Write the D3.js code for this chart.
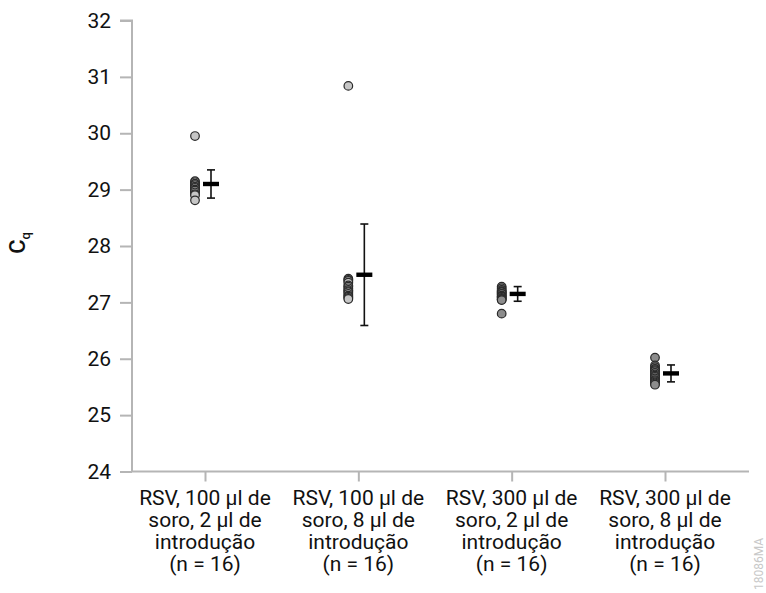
<!DOCTYPE html>
<html>
<head>
<meta charset="utf-8">
<script src="https://cdn.jsdelivr.net/npm/d3@7"></script>
<style>
  body { margin: 0; background: #fff; }
  svg { font-family: Roboto, "Noto Sans", sans-serif; }
</style>
</head>
<body>
<script>
// groups on the x axis
var categories = [
  ["RSV, 100 µl de", "soro, 2 µl de", "introdução", "(n = 16)"],
  ["RSV, 100 µl de", "soro, 8 µl de", "introdução", "(n = 16)"],
  ["RSV, 300 µl de", "soro, 2 µl de", "introdução", "(n = 16)"],
  ["RSV, 300 µl de", "soro, 8 µl de", "introdução", "(n = 16)"]
];

// Cq values per replicate
var g1 = [29.95, 29.15, 29.13, 29.10, 29.10, 29.08, 29.05, 29.05, 29.03, 29.00, 29.00, 28.98, 28.95, 28.92, 28.90, 28.81];
var g2 = [30.84, 27.42, 27.40, 27.38, 27.35, 27.30, 27.28, 27.25, 27.22, 27.20, 27.18, 27.15, 27.12, 27.10, 27.08, 27.06];
var g3 = [27.28, 27.25, 27.22, 27.20, 27.18, 27.18, 27.15, 27.15, 27.12, 27.10, 27.10, 27.08, 27.06, 27.05, 27.04, 26.80];
var g4 = [26.02, 25.88, 25.85, 25.82, 25.80, 25.78, 25.75, 25.72, 25.70, 25.68, 25.65, 25.62, 25.60, 25.58, 25.56, 25.54];
var groups = [g1, g2, g3, g4];

// mean and error bar (sd)
var means = [29.10, 27.49, 27.15, 25.74];
var errs = [0.25, 0.90, 0.13, 0.15];

var dotFills = ["#c6c6c6", "#c6c6c6", "#8c8c8c", "#8c8c8c"];
var yTicks = [24, 25, 26, 27, 28, 29, 30, 31, 32];

var W = 766, H = 593;
var svg = d3.select("body").append("svg").attr("width", W).attr("height", H);

var y = d3.scaleLinear().domain([24, 32]).range([471.5, 20.5]);
var x = d3.scalePoint().domain(d3.range(categories.length)).range([205, 665]);

var axisCol = "#b5b5b5";

// y axis
var yAxis = svg.append("g").attr("transform", "translate(132,0)")
  .call(d3.axisLeft(y).tickValues(yTicks).tickSize(12).tickPadding(9).tickFormat(d3.format("d")));
yAxis.select(".domain").attr("stroke", axisCol).attr("stroke-width", 2)
  .attr("d", "M-12," + y(32) + "H0V" + y(24));
yAxis.selectAll(".tick line").attr("stroke", axisCol).attr("stroke-width", 2);
yAxis.selectAll(".tick text").attr("font-size", 21).attr("fill", "#111")
  .attr("font-family", "Roboto, sans-serif");

// x axis
var xAxis = svg.append("g").attr("transform", "translate(0," + y(24) + ")")
  .call(d3.axisBottom(x).tickSize(10).tickFormat(""));
xAxis.select(".domain").attr("stroke", axisCol).attr("stroke-width", 2)
  .attr("d", "M132,0H749");
xAxis.selectAll(".tick line").attr("stroke", axisCol).attr("stroke-width", 2);

// category labels
categories.forEach(function(lines, i) {
  var t = svg.append("text").attr("text-anchor", "middle")
    .attr("font-size", 21).attr("fill", "#111");
  lines.forEach(function(s, j) {
    t.append("tspan").attr("x", x(i)).attr("y", 505 + j * 22).text(s);
  });
});

// y label Cq
var lab = svg.append("text").attr("transform", "translate(25,243) rotate(-90)")
  .attr("text-anchor", "middle").attr("font-size", 22).attr("font-weight", 500).attr("fill", "#111");
lab.append("tspan").text("C");
lab.append("tspan").attr("font-size", 13).attr("dy", 5).text("q");

// dots
groups.forEach(function(vals, i) {
  svg.append("g").selectAll("circle").data(vals).enter().append("circle")
    .attr("cx", x(i) - 10)
    .attr("cy", function(d) { return y(d); })
    .attr("r", 4.3)
    .attr("fill", dotFills[i])
    .attr("stroke", "#2a2a2a")
    .attr("stroke-width", 1.2);
});

// mean + error bars
var stats = svg.append("g");
means.forEach(function(m, i) {
  var cx = x(i) + 6;
  var lo = y(m - errs[i]), hi = y(m + errs[i]);
  stats.append("line").attr("x1", cx).attr("x2", cx).attr("y1", lo).attr("y2", hi)
    .attr("stroke", "#111").attr("stroke-width", 1.6);
  [lo, hi].forEach(function(yy) {
    stats.append("line").attr("x1", cx - 4).attr("x2", cx + 4).attr("y1", yy).attr("y2", yy)
      .attr("stroke", "#111").attr("stroke-width", 1.6);
  });
  stats.append("rect").attr("x", cx - 8).attr("y", y(m) - 2.2).attr("width", 16).attr("height", 4.4)
    .attr("fill", "#000");
});

// watermark
svg.append("text").attr("transform", "translate(763,590) rotate(-90)")
  .attr("font-size", 12).attr("fill", "#c8c8c8").text("18086MA");
</script>
</body>
</html>
